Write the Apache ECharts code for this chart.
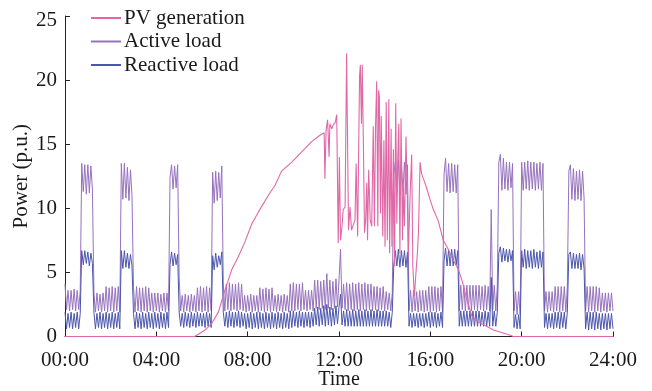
<!DOCTYPE html>
<html>
<head>
<meta charset="utf-8">
<script src="https://cdn.jsdelivr.net/npm/echarts@6/dist/echarts.min.js"></script>
<style>
  html, body { margin: 0; padding: 0; background: #fff; }
  #chart { width: 652px; height: 391px; }
</style>
</head>
<body>
<div id="chart"></div>
<script>
// Load profiles sampled every 4 minutes (one row per hour, 15 samples), p.u.
const LOAD_STEP_MIN = 4;

const activeLoad = [
  /* 00 */ 4.1,2.1,3.6,2.0,3.6,2.1,3.7,2.0,3.6,2.1,3.6,13.5,11.3,13.4,11.1,
  /* 01 */ 13.4,11.2,13.3,11.5,3.4,1.9,3.4,2.0,3.3,1.9,3.4,2.0,3.9,1.9,3.8,
  /* 02 */ 2.0,3.9,1.9,3.8,2.0,3.9,1.9,13.5,10.7,13.5,10.8,13.2,10.6,13.0,11.0,
  /* 03 */ 3.8,1.9,3.9,2.0,3.8,1.9,3.8,2.0,3.9,1.9,3.8,2.0,3.4,1.9,3.4,
  /* 04 */ 2.0,3.4,1.9,3.3,2.0,3.4,1.9,3.4,2.0,12.4,13.4,11.5,13.3,11.6,13.4,
  /* 05 */ 4.6,2.0,3.2,1.9,3.3,2.0,3.2,1.9,3.3,2.0,3.2,1.9,3.8,2.0,3.9,
  /* 06 */ 1.9,3.8,2.0,3.9,1.9,3.8,2.0,12.8,10.4,12.9,10.6,12.8,10.8,13.3,4.1,
  /* 07 */ 2.0,4.1,2.1,4.2,2.0,4.1,2.1,4.1,2.0,4.2,2.1,4.1,2.0,3.2,1.9,
  /* 08 */ 3.2,2.0,3.3,1.9,3.2,2.0,3.2,1.9,3.8,2.0,3.7,1.9,3.8,2.0,3.7,
  /* 09 */ 1.9,3.8,2.0,3.2,1.9,3.3,2.0,3.2,1.9,3.3,2.0,3.2,1.9,4.1,2.0,
  /* 10 */ 4.2,2.0,4.1,2.1,4.1,2.0,4.2,2.1,3.6,2.0,3.6,2.1,3.6,2.0,4.4,
  /* 11 */ 2.2,4.4,2.1,4.3,2.2,4.4,2.1,4.9,2.2,4.4,2.1,4.3,2.2,4.5,2.3,
  /* 12 */ 4.4,6.8,2.2,4.1,2.1,4.2,2.0,4.1,2.1,4.2,2.0,4.1,2.1,4.2,2.0,
  /* 13 */ 4.1,2.1,4.2,2.0,4.1,2.1,4.1,2.0,3.9,2.1,3.9,2.0,3.8,2.1,3.9,
  /* 14 */ 2.0,3.5,2.1,3.4,2.0,3.4,12.6,13.6,11.2,13.8,11.0,13.5,11.3,13.6,11.1,
  /* 15 */ 13.4,2.0,3.6,1.9,3.6,2.0,3.5,1.9,3.6,2.0,3.6,1.9,3.6,2.0,3.9,
  /* 16 */ 1.9,3.9,2.0,3.9,1.9,3.8,2.0,3.9,1.9,12.6,13.9,11.3,13.5,11.2,13.5,
  /* 17 */ 11.3,13.4,11.2,13.4,2.0,4.0,2.1,4.0,2.0,4.0,2.1,4.0,2.0,4.0,2.1,
  /* 18 */ 4.0,2.0,4.0,2.1,3.9,2.0,4.0,2.1,3.9,2.0,9.9,2.1,4.0,2.0,3.9,
  /* 19 */ 13.6,14.2,11.4,13.9,11.5,13.6,11.4,13.6,11.6,13.5,2.0,3.5,1.7,3.5,1.7,
  /* 20 */ 13.6,11.4,13.6,11.5,13.7,11.4,13.6,11.5,13.6,11.4,13.5,11.5,13.6,11.4,13.5,
  /* 21 */ 2.0,3.5,1.9,3.5,2.0,3.5,1.9,3.9,2.0,3.9,1.9,3.9,2.0,3.9,1.9,
  /* 22 */ 3.9,12.9,13.4,10.7,13.1,10.6,12.9,10.7,13.0,10.6,12.9,10.8,2.0,3.9,1.9,
  /* 23 */ 3.9,2.0,3.9,1.9,3.9,2.0,3.8,1.9,3.4,2.0,3.4,1.9,3.4,2.0,3.4,2.0
];

const reactiveLoad = [
  /* 00 */ 1.9,0.6,1.8,0.7,1.9,0.6,1.8,0.7,1.9,0.6,1.8,6.7,5.6,6.7,5.7,
  /* 01 */ 6.6,5.5,6.5,5.7,1.9,0.6,1.8,0.7,1.9,0.6,1.8,0.7,1.9,0.6,1.8,
  /* 02 */ 0.7,1.9,0.6,1.8,0.7,1.9,0.6,6.7,5.3,6.7,5.4,6.5,5.3,6.4,5.5,
  /* 03 */ 1.8,0.6,1.9,0.7,1.8,0.6,1.9,0.7,1.8,0.6,1.9,0.7,1.8,0.6,1.9,
  /* 04 */ 0.7,1.8,0.6,1.9,0.7,1.8,0.6,1.9,0.7,5.6,6.6,5.5,6.5,5.6,6.4,
  /* 05 */ 1.9,0.8,1.8,0.7,1.9,0.8,1.8,0.7,1.9,0.8,1.8,0.7,1.9,0.8,1.8,
  /* 06 */ 0.8,1.8,0.7,1.9,0.8,1.8,0.7,6.3,5.2,6.5,5.4,6.3,5.6,6.6,1.9,
  /* 07 */ 0.8,1.9,0.7,2.0,0.8,1.9,0.7,1.9,0.8,2.0,0.7,1.9,0.8,1.8,0.6,
  /* 08 */ 1.8,0.7,1.9,0.6,1.8,0.7,1.9,0.6,1.9,0.7,1.8,0.6,1.9,0.7,1.8,
  /* 09 */ 0.6,1.9,0.7,1.8,0.6,1.9,0.7,1.8,0.6,1.9,0.7,1.8,0.6,2.0,0.7,
  /* 10 */ 2.0,0.8,1.9,0.7,2.0,0.8,1.9,0.7,1.9,0.8,1.9,0.7,1.9,0.8,2.2,
  /* 11 */ 0.9,2.3,0.8,2.2,0.9,2.4,0.8,2.5,0.9,2.3,0.8,2.2,0.9,2.4,1.0,
  /* 12 */ 2.3,3.3,0.9,2.0,0.8,2.1,0.8,2.0,0.8,2.1,0.8,2.0,0.8,2.1,0.8,
  /* 13 */ 2.0,0.8,2.1,0.8,2.0,0.8,2.1,0.8,2.0,0.8,2.1,0.8,2.0,0.8,2.0,
  /* 14 */ 0.8,2.0,0.8,1.9,0.7,1.9,5.6,6.7,5.5,6.8,5.4,6.7,5.5,6.7,5.4,
  /* 15 */ 6.6,0.8,1.8,0.7,1.8,0.8,1.8,0.7,1.8,0.8,1.8,0.7,1.8,0.8,1.9,
  /* 16 */ 0.7,1.9,0.8,1.9,0.7,1.8,0.8,1.9,0.7,5.9,6.9,5.5,6.8,5.5,6.8,
  /* 17 */ 5.5,6.8,5.6,6.7,0.8,2.0,0.8,2.0,0.8,2.0,0.8,2.0,0.8,2.0,0.8,
  /* 18 */ 2.0,0.8,2.0,0.8,1.9,0.8,2.0,0.8,1.9,0.8,4.6,0.8,2.0,0.8,1.9,
  /* 19 */ 6.5,7.0,5.8,6.9,5.9,6.8,5.8,6.8,5.9,6.7,0.7,1.7,0.6,1.7,0.6,
  /* 20 */ 6.7,5.4,6.8,5.3,6.7,5.4,6.7,5.3,6.8,5.4,6.6,5.3,6.7,5.4,6.6,
  /* 21 */ 0.7,1.8,0.6,1.8,0.7,1.8,0.6,1.9,0.7,1.9,0.6,1.9,0.7,1.9,0.6,
  /* 22 */ 1.9,6.4,6.6,5.3,6.5,5.3,6.4,5.3,6.5,5.2,6.4,5.3,0.6,1.9,0.5,
  /* 23 */ 1.9,0.6,1.9,0.5,1.9,0.6,1.8,0.5,1.8,0.6,1.8,0.5,1.8,0.6,1.8,0.6
];

// PV output, irregular time stamps (minutes after midnight), p.u.
const pvMinutes = [
  0, 341, 368, 385, 403, 420, 438, 455, 473, 491, 508, 534, 552, 569, 596, 622, 648,
  670, 681, 683, 686, 690, 694, 696, 701, 705, 710, 714, 718, 721, 724, 728, 731,
  736, 740, 745, 749, 753, 758, 762, 765, 769, 774, 776, 779, 781, 784, 787, 790,
  793, 795, 798, 802, 806, 810, 813, 816, 819, 822, 824, 826, 829, 831, 835, 838,
  841, 844, 847, 851, 853, 857, 859, 863, 866, 869, 872, 874, 877, 880, 883, 887,
  889, 892, 896, 900, 902, 907, 911, 914, 918, 922, 926, 929, 933, 937, 943, 949,
  959, 968, 981, 994, 1007, 1016, 1025, 1034, 1043, 1056, 1069, 1082, 1126, 1170, 1178, 1440
];
const pvValues = [
  0, 0, 0.5, 1.0, 1.9, 3.6, 5.2, 6.2, 7.4, 8.8, 9.7, 11.0, 11.8, 12.9, 13.6, 14.4, 15.2,
  15.7, 15.9, 12.3, 16.1, 16.9, 14.0, 16.6, 16.2, 16.5, 16.7, 17.3, 7.3, 14.0, 7.5, 8.6, 9.9,
  10.1, 22.1, 8.3, 10.1, 8.3, 8.2, 9.1, 13.5, 7.8, 20.3, 21.2, 16.6, 21.2, 15.3, 8.1, 9.1,
  12.0, 7.5, 13.0, 9.1, 8.6, 16.4, 8.6, 16.4, 19.9, 8.6, 19.2, 18.7, 9.6, 17.2, 7.8, 15.3,
  7.0, 18.3, 7.5, 18.5, 6.5, 16.2, 7.0, 14.6, 5.5, 18.2, 8.8, 13.3, 16.6, 6.5, 17.0, 7.5,
  11.7, 8.6, 15.6, 10.1, 6.2, 11.2, 14.2, 5.5, 3.1, 4.9, 6.5, 8.3, 13.6, 12.7, 12.2, 11.7,
  10.7, 9.9, 9.0, 7.5, 6.8, 6.2, 5.7, 5.2, 4.4, 2.9, 1.6, 1.2, 0.5, 0.1, 0, 0
];

const seriesNames = ['PV generation', 'Active load', 'Reactive load'];
const timeTicks = ['00:00', '04:00', '08:00', '12:00', '16:00', '20:00', '24:00'];
const powerTicks = [0, 5, 10, 15, 20, 25];

const FONT = 'Liberation Serif, Times New Roman, serif';
const INK = '#1a1a1a';

const toPairs = (vals) => vals.map((v, i) => [i * LOAD_STEP_MIN, v]);
const pvPairs = pvMinutes.map((m, i) => [m, pvValues[i]]);

const chart = echarts.init(document.getElementById('chart'), null, { renderer: 'canvas' });

chart.setOption({
  animation: false,
  backgroundColor: '#ffffff',
  grid: { left: 65, right: 39, top: 16, bottom: 54.5, containLabel: false, outerBoundsMode: 'none' },
  legend: {
    orient: 'vertical',
    left: 91,
    top: 7.5,
    padding: 0,
    itemWidth: 30,
    itemHeight: 2,
    itemGap: 2.5,
    icon: 'rect',
    data: seriesNames,
    textStyle: { fontFamily: FONT, fontSize: 21, color: INK, lineHeight: 21, padding: [0, 0, 0, -2] }
  },
  xAxis: {
    type: 'value',
    min: 0,
    max: 1440,
    interval: 240,
    name: 'Time',
    nameLocation: 'middle',
    nameGap: 33,
    nameMoveOverlap: false,
    nameTextStyle: { fontFamily: FONT, fontSize: 20, color: INK },
    axisLine: { lineStyle: { color: '#222', width: 1 } },
    axisTick: { inside: true, length: 5, lineStyle: { color: '#222' } },
    splitLine: { show: false },
    axisLabel: {
      margin: 13,
      fontFamily: FONT,
      fontSize: 21,
      color: INK,
      formatter: (v) => timeTicks[Math.round(v / 240)]
    }
  },
  yAxis: {
    type: 'value',
    min: powerTicks[0],
    max: powerTicks[powerTicks.length - 1],
    interval: 5,
    name: 'Power (p.u.)',
    nameLocation: 'middle',
    nameGap: 33,
    nameMoveOverlap: false,
    nameTextStyle: { fontFamily: FONT, fontSize: 21, color: INK },
    axisLine: { show: true, lineStyle: { color: '#222', width: 1 } },
    axisTick: { show: true, inside: true, length: 5, lineStyle: { color: '#222' } },
    splitLine: { show: false },
    axisLabel: {
      margin: 8,
      fontFamily: FONT,
      fontSize: 21,
      color: INK,
      formatter: (v) => (v === powerTicks[powerTicks.length - 1] ? '{top|' + v + '}' : String(v)),
      rich: { top: { fontFamily: FONT, fontSize: 21, color: INK, padding: [9, 0, 0, 0] } }
    }
  },
  series: [
    {
      name: seriesNames[0], type: 'line', z: 5, showSymbol: false, symbol: 'none',
      color: '#e267a7', lineStyle: { width: 1.1, color: '#e267a7' },
      data: pvPairs
    },
    {
      name: seriesNames[1], type: 'line', z: 3, showSymbol: false, symbol: 'none',
      color: '#9672bd', lineStyle: { width: 1, color: '#9672bd' },
      data: toPairs(activeLoad)
    },
    {
      name: seriesNames[2], type: 'line', z: 4, showSymbol: false, symbol: 'none',
      color: '#4b56ad', lineStyle: { width: 1, color: '#4b56ad' },
      data: toPairs(reactiveLoad)
    }
  ]
});
</script>
</body>
</html>
